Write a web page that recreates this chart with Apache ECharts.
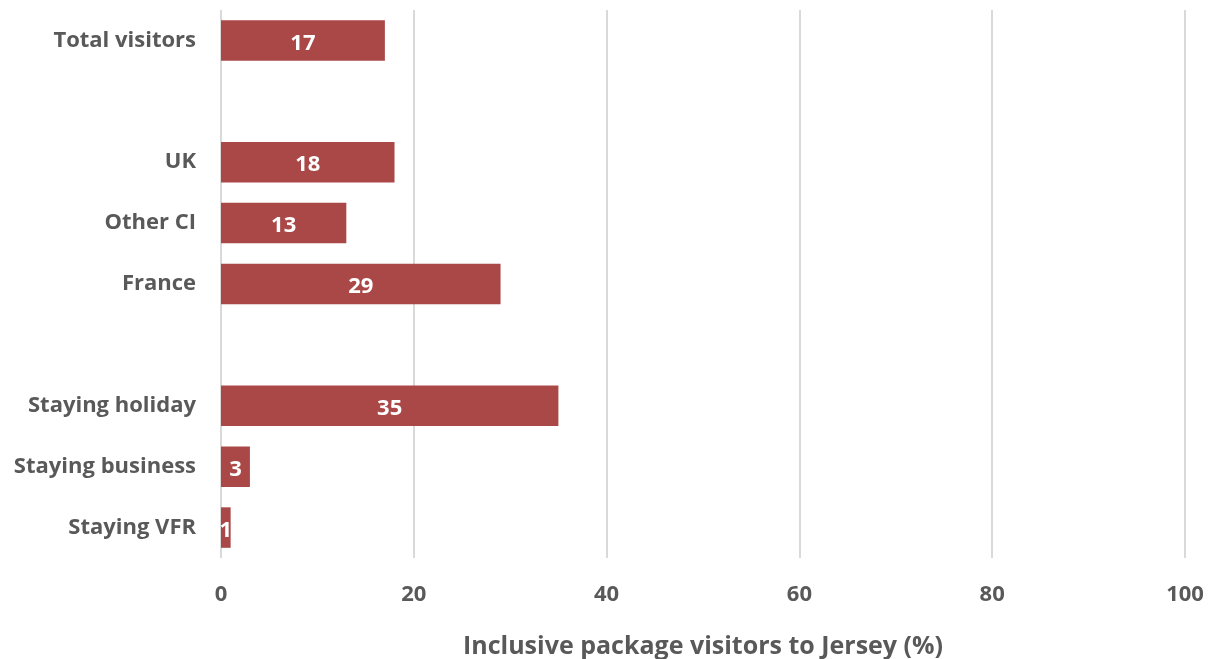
<!DOCTYPE html>
<html>
<head>
<meta charset="utf-8">
<script src="https://cdn.jsdelivr.net/npm/echarts@6/dist/echarts.min.js"></script>
<style>
  html, body { margin: 0; padding: 0; background: #fff; }
  #chart { width: 1212px; height: 659px; }
</style>
</head>
<body>
<div id="chart"></div>
<script>
// Share of visitors on an inclusive package, by group (blank rows separate the groups)
const categories = ['Total visitors', '', 'UK', 'Other CI', 'France', '', 'Staying holiday', 'Staying business', 'Staying VFR'];
const shares = [17, null, 18, 13, 29, null, 35, 3, 1];
const xTicks = [0, 20, 40, 60, 80, 100];

const textColor = '#595959';
const fontFamily = '"Open Sans", "Noto Sans", sans-serif';

const chart = echarts.init(document.getElementById('chart'));
chart.setOption({
  animation: false,
  grid: { left: 221, right: 27, top: 10, bottom: 101, containLabel: false, outerBoundsMode: 'none' },
  xAxis: {
    type: 'value',
    min: xTicks[0],
    max: xTicks[xTicks.length - 1],
    interval: xTicks[1] - xTicks[0],
    name: 'Inclusive package visitors to Jersey (%)',
    nameLocation: 'middle',
    nameGap: 76,
    nameTextStyle: { color: textColor, fontSize: 25, fontWeight: 'bold', fontFamily },
    axisLine: { show: false },
    axisTick: { show: false },
    axisLabel: { color: textColor, fontSize: 22, fontWeight: 'bold', fontFamily, margin: 26 },
    splitLine: { show: true, lineStyle: { color: '#d9d9d9', width: 2 } }
  },
  yAxis: {
    type: 'category',
    inverse: true,
    data: categories,
    axisLine: { show: false },
    axisTick: { show: false },
    axisLabel: {
      color: textColor, fontSize: 22, fontWeight: 'bold', fontFamily, margin: 25,
      lineHeight: 26, padding: [6, 0, 0, 0]
    }
  },
  series: [{
    type: 'bar',
    data: shares,
    barCategoryGap: '33.5%',
    itemStyle: { color: '#A94846' },
    label: {
      show: true,
      position: 'inside',
      offset: [0, 3],
      color: '#ffffff',
      fontSize: 22,
      fontWeight: 'bold',
      fontFamily
    }
  }]
});
</script>
</body>
</html>
